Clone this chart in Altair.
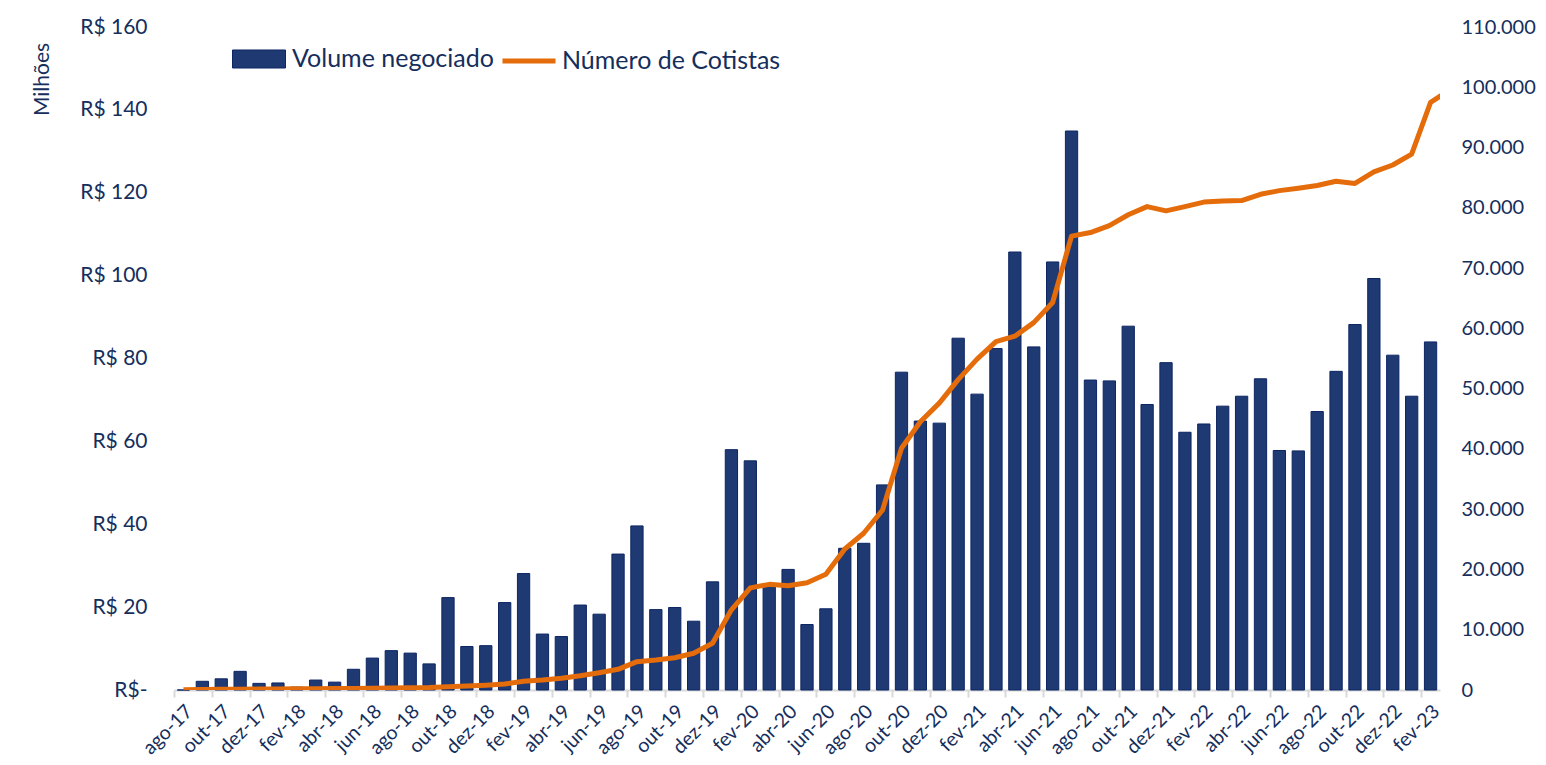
import altair as alt
import pandas as pd

months = [
    "ago-17", "set-17", "out-17", "nov-17", "dez-17",
    "jan-18", "fev-18", "mar-18", "abr-18", "mai-18", "jun-18", "jul-18", "ago-18", "set-18", "out-18", "nov-18", "dez-18",
    "jan-19", "fev-19", "mar-19", "abr-19", "mai-19", "jun-19", "jul-19", "ago-19", "set-19", "out-19", "nov-19", "dez-19",
    "jan-20", "fev-20", "mar-20", "abr-20", "mai-20", "jun-20", "jul-20", "ago-20", "set-20", "out-20", "nov-20", "dez-20",
    "jan-21", "fev-21", "mar-21", "abr-21", "mai-21", "jun-21", "jul-21", "ago-21", "set-21", "out-21", "nov-21", "dez-21",
    "jan-22", "fev-22", "mar-22", "abr-22", "mai-22", "jun-22", "jul-22", "ago-22", "set-22", "out-22", "nov-22", "dez-22",
    "jan-23", "fev-23",
]

# Volume negociado (R$ milhões)
volume = [
    0.0, 2.1, 2.7, 4.5, 1.6, 1.7, 0.7, 2.4, 1.9, 5.0, 7.7, 9.5, 8.9, 6.3, 22.3, 10.5, 10.7,
    21.1, 28.1, 13.5, 12.9, 20.5, 18.3, 32.8, 39.6, 19.4, 19.9, 16.6, 26.1,
    58.0, 55.3, 25.0, 29.1, 15.8, 19.6, 34.2, 35.4, 49.5, 76.7, 64.9, 64.4,
    84.9, 71.4, 82.4, 105.7, 82.8, 103.3, 134.9, 74.8, 74.6, 87.8, 68.9, 79.0,
    62.2, 64.2, 68.5, 70.9, 75.1, 57.8, 57.7, 67.2, 76.9, 88.2, 99.3, 80.8,
    70.9, 84.0,
]

# Número de cotistas (last point, mar-23, runs past the plot edge and is clipped)
cotistas = [
    60, 90, 110, 130, 150, 170, 190, 210, 230, 260, 290, 330, 370, 420, 550, 650, 800,
    1000, 1450, 1650, 1950, 2370, 2870, 3430, 4700, 4980, 5360, 6090, 7750,
    13300, 16950, 17530, 17300, 17800, 19200, 23400, 26000, 29870, 40100, 44500, 47600,
    51500, 54900, 57800, 58700, 60950, 64300, 75300, 75900, 77050, 78850, 80200, 79500,
    80200, 80950, 81150, 81200, 82250, 82850, 83250, 83700, 84400, 84050, 85950, 87100,
    88900, 97500, 99500,
]

left_ticks = [0, 20, 40, 60, 80, 100, 120, 140, 160]
right_ticks = [0, 10000, 20000, 30000, 40000, 50000, 60000, 70000, 80000, 90000, 100000, 110000]

NAVY_TEXT = "#152E5C"
BAR_FILL = "#1F3A72"
BAR_STROKE = "#0C2563"
ORANGE = "#E46C0A"
FONT = "Lato"

W, H = 1266, 663
PAD_L, PAD_T = 166, 19
SVG_W, SVG_H = 1530, 749
n = len(months)

bars_df = pd.DataFrame({"mes": months, "vol": volume, "serie": "Volume negociado"})
line_df = pd.DataFrame({"idx": list(range(len(cotistas))), "cot": cotistas, "serie": "Número de Cotistas"})

even_months = months[::2]
tick_pos = [k - 0.5 for k in range(0, n, 2)]

bars = alt.Chart(bars_df).mark_bar(stroke=BAR_STROKE, strokeWidth=1).encode(
    x=alt.X("mes:O", sort=months,
            scale=alt.Scale(paddingInner=0.35, paddingOuter=0.175),
            axis=alt.Axis(values=even_months, labelAngle=-45, labelAlign="right",
                          labelBaseline="middle", labelPadding=18, labelOffset=6,
                          ticks=False, domain=False,
                          labelFontSize=19.5, labelColor=NAVY_TEXT, labelFont=FONT, title=None,
                          labelOverlap=False)),
    y=alt.Y("vol:Q", scale=alt.Scale(domain=[0, 160], nice=False),
            axis=alt.Axis(values=left_ticks, grid=False, ticks=False, domain=False,
                          labelExpr="datum.value == 0 ? 'R$-' : 'R$ ' + datum.value",
                          labelFontSize=21, labelColor=NAVY_TEXT, labelFont=FONT, labelPadding=27,
                          title="Milhões", titleFontSize=21, titleColor=NAVY_TEXT, titleFont=FONT,
                          titleFontWeight="normal", titleAngle=-90, titleX=-132, titleY=52,
                          titleAlign="center", titleBaseline="middle")),
    fill=alt.Fill("serie:N", scale=alt.Scale(domain=["Volume negociado"], range=[BAR_FILL]),
                  legend=alt.Legend(title=None, orient="none", legendX=58, legendY=5,
                                    symbolType="M-1,-0.34H1V0.34H-1Z", symbolSize=2809,
                                    symbolStrokeColor=BAR_STROKE, symbolStrokeWidth=1,
                                    labelFontSize=25, labelColor=NAVY_TEXT, labelFont=FONT,
                                    labelOffset=6, labelLimit=500)),
)

line = alt.Chart(line_df).mark_line(strokeWidth=5, clip=True, strokeJoin="round").encode(
    x=alt.X("idx:Q", scale=alt.Scale(domain=[-0.5, n - 0.5], nice=False, zero=False),
            axis=alt.Axis(orient="bottom", values=tick_pos, labels=False, grid=False,
                          domainColor="#D9D9D9", domainWidth=2, tickColor="#D9D9D9",
                          tickWidth=2, tickSize=7, title=None)),
    y=alt.Y("cot:Q", scale=alt.Scale(domain=[0, 110000], nice=False),
            axis=alt.Axis(orient="right", values=right_ticks, grid=False, ticks=False, domain=False,
                          labelExpr="replace(format(datum.value, ',d'), ',', '.')",
                          labelFontSize=20, labelColor=NAVY_TEXT, labelFont=FONT, labelPadding=21,
                          title=None)),
    stroke=alt.Stroke("serie:N", scale=alt.Scale(domain=["Número de Cotistas"], range=[ORANGE]),
                      legend=alt.Legend(title=None, orient="none", legendX=326, legendY=5,
                                        symbolType="stroke", symbolSize=2809, symbolStrokeWidth=5,
                                        labelFontSize=25, labelColor=NAVY_TEXT, labelFont=FONT,
                                        labelOffset=4, labelLimit=500)),
)

chart = alt.layer(bars, line).resolve_scale(
    x="independent", y="independent", fill="independent", stroke="independent"
).properties(
    width=W, height=H,
    background="white",
    autosize=alt.AutoSizeParams(type="none"),
    padding={"left": PAD_L, "top": PAD_T, "right": SVG_W - PAD_L - W, "bottom": SVG_H - PAD_T - H},
).configure_view(stroke=None)

chart.save("out.html", embed_options={"renderer": "svg", "actions": False})
